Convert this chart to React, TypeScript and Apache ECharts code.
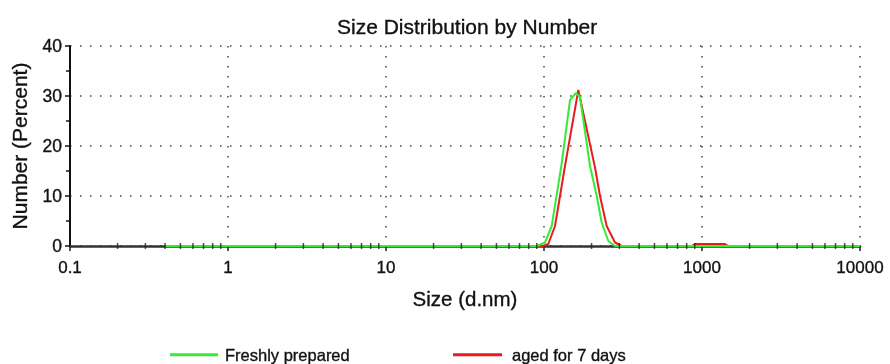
import React, { useEffect, useRef } from "react";
import * as echarts from "echarts";

const TITLE = "Size Distribution by Number";
const X_NAME = "Size (d.nm)";
const Y_NAME = "Number (Percent)";
const FRESH = "Freshly prepared";
const AGED = "aged for 7 days";

const freshSizes = [0.4, 90.3, 101.5, 111.9, 129.4, 146.1, 159.4, 169, 195.5, 215.6, 231.8, 255.3, 281.5, 10000];
const freshValues = [0, 0, 0.7, 4.0, 16.5, 29.2, 30.6, 29.8, 16, 10, 4.7, 1, 0, 0];

const agedSizes = [0.4, 98.6, 106.5, 117.4, 126.3, 135.8, 164.9, 210.3, 226.2, 249.3, 281.5, 310.3, 860, 903, 1398, 1460, 10000];
const agedValues = [0, 0, 0.4, 4, 10, 16, 31.2, 15.7, 10, 4, 0.7, 0, 0, 0.4, 0.4, 0, 0];

const decades = [0.1, 1, 10, 100, 1000];
const minorMultipliers = [2, 3, 4, 5, 6, 7, 8, 9];

const FONT = "'Liberation Sans', Arial, sans-serif";
const TXT = "#111";
const heavy = { textBorderColor: TXT, textBorderWidth: 0.35 };

export default function App() {
  const ref = useRef<HTMLDivElement>(null);
  useEffect(() => {
    if (!ref.current) return;
    const chart = echarts.init(ref.current, null, { renderer: "svg" });
    const minorTicks: number[][] = [];
    decades.forEach((d) => minorMultipliers.forEach((m) => minorTicks.push([+(d * m).toPrecision(6), 0])));
    const dotted = { type: [1.5, 8.5] as any, width: 1.5, color: "#444" };
    chart.setOption({
      animation: false,
      textStyle: { fontFamily: FONT },
      title: {
        text: TITLE,
        left: 337,
        top: 16,
        padding: 0,
        textStyle: { fontFamily: FONT, fontSize: 21, fontWeight: "normal", color: TXT, ...heavy },
      },
      legend: [
        {
          data: [FRESH],
          left: 170,
          top: 346,
          padding: 0,
          icon: "rect",
          itemWidth: 48,
          itemHeight: 3,
          textStyle: { fontFamily: FONT, fontSize: 16.5, color: TXT, padding: [0, 0, 0, 2], ...heavy },
        },
        {
          data: [AGED],
          left: 453,
          top: 346,
          padding: 0,
          icon: "rect",
          itemWidth: 49,
          itemHeight: 3,
          textStyle: { fontFamily: FONT, fontSize: 16.5, color: TXT, padding: [0, 0, 0, 5], ...heavy },
        },
      ],
      grid: { left: 70, right: 30, top: 46, bottom: 118 },
      xAxis: {
        type: "log",
        logBase: 10,
        min: 0.1,
        max: 10000,
        name: X_NAME,
        nameLocation: "middle",
        nameGap: 42,
        nameTextStyle: { fontFamily: FONT, fontSize: 20.5, color: TXT, ...heavy },
        axisLine: { show: true, onZero: false, lineStyle: { color: "#333", width: 2.5 } },
        axisTick: { show: true, length: 5, lineStyle: { color: "#222", width: 1.5 } },
        axisLabel: {
          fontFamily: FONT,
          fontSize: 17,
          color: TXT,
          margin: 13,
          ...heavy,
          formatter: (v: number) => (v < 1 ? v.toFixed(1) : String(Math.round(v))),
        },
        splitLine: { show: true, lineStyle: dotted },
        minorTick: { show: false },
      },
      yAxis: {
        type: "value",
        min: 0,
        max: 40,
        interval: 10,
        name: Y_NAME,
        nameLocation: "middle",
        nameGap: 40,
        nameTextStyle: { fontFamily: FONT, fontSize: 21, color: TXT, ...heavy },
        axisLine: { show: true, lineStyle: { color: "#111", width: 2 } },
        axisTick: { show: true, length: 5, lineStyle: { color: "#111", width: 1.5 } },
        minorTick: { show: true, splitNumber: 2, length: 4, lineStyle: { color: "#111", width: 1.5 } },
        axisLabel: { fontFamily: FONT, fontSize: 17.5, color: TXT, margin: 8, ...heavy },
        splitLine: { show: true, lineStyle: dotted },
      },
      series: [
        {
          name: AGED,
          type: "line",
          data: agedSizes.map((s, i) => [s, agedValues[i]]),
          showSymbol: false,
          symbol: "none",
          color: "#e41e1e",
          lineStyle: { color: "#e41e1e", width: 2 },
          z: 3,
          silent: true,
        },
        {
          name: FRESH,
          type: "line",
          data: freshSizes.map((s, i) => [s, freshValues[i]]),
          showSymbol: false,
          symbol: "none",
          color: "#36ea36",
          lineStyle: { color: "#36ea36", width: 2 },
          z: 4,
          silent: true,
        },
        {
          name: "minor ticks",
          type: "scatter",
          data: minorTicks,
          symbol: "rect",
          symbolSize: [1.5, 6],
          itemStyle: { color: "#222" },
          z: 5,
          silent: true,
        },
      ],
    });
    return () => chart.dispose();
  }, []);
  return <div ref={ref} style={{ position: "fixed", left: 0, top: 0, width: 890, height: 364 }} />;
}
